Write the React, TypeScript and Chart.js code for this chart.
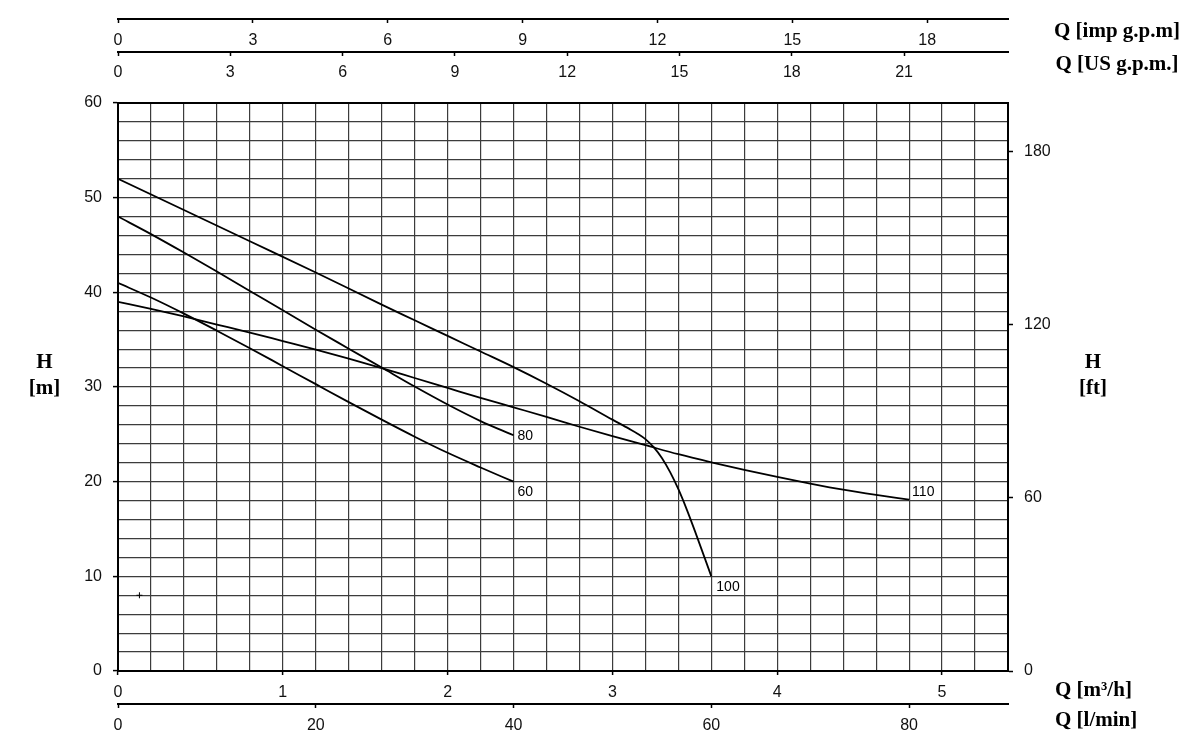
import React, { useEffect, useRef } from 'react';
import { Chart, registerables } from 'chart.js';

Chart.register(...registerables);

// ---- Data (Q in m³/h, H in m) ----
const Q_60 = [0, 0.2, 0.4, 0.6, 0.8, 1.0, 1.2, 1.4, 1.6, 1.8, 2.0, 2.2, 2.4];
const H_60 = [41.0, 39.45, 37.75, 35.95, 34.1, 32.2, 30.3, 28.4, 26.55, 24.75, 23.05, 21.5, 20.0];

const Q_80 = [0, 0.2, 0.4, 0.6, 0.8, 1.0, 1.2, 1.4, 1.6, 1.8, 2.0, 2.2, 2.4];
const H_80 = [48.0, 46.15, 44.2, 42.2, 40.15, 38.1, 36.05, 34.05, 32.05, 30.05, 28.15, 26.4, 24.9];

const Q_100 = [0, 0.4, 0.8, 1.2, 1.6, 1.8, 2.0, 2.2, 2.4, 2.6, 2.8, 3.0, 3.1, 3.15, 3.2, 3.25, 3.3, 3.35, 3.4, 3.45, 3.5, 3.6];
const H_100 = [52.0, 48.7, 45.4, 42.1, 38.7, 37.05, 35.4, 33.75, 32.1, 30.35, 28.5, 26.55, 25.6, 25.1, 24.5, 23.65, 22.5, 21.0, 19.2, 17.1, 14.8, 10.0];

const Q_110 = [0, 0.2, 0.4, 0.6, 0.8, 1.0, 1.2, 1.4, 1.6, 1.8, 2.0, 2.2, 2.4, 2.6, 2.8, 3.0, 3.2, 3.4, 3.6, 3.8, 4.0, 4.2, 4.4, 4.6, 4.8];
const H_110 = [39.0, 38.25, 37.45, 36.6, 35.75, 34.85, 33.95, 33.0, 32.0, 30.95, 29.9, 28.85, 27.85, 26.85, 25.8, 24.8, 23.85, 22.9, 22.05, 21.25, 20.5, 19.8, 19.15, 18.6, 18.1];

const CURVE_NAMES = ['60', '80', '100', '110'];

const MARK_Q = [0.13];
const MARK_H = [8];

// ---- Axis tick labels ----
const M3H_LABELS = [0, 1, 2, 3, 4, 5];
const HM_LABELS = [0, 10, 20, 30, 40, 50, 60];
const FT_TICKS = [0, 60, 120, 180];
const LMIN_TICKS = [0, 20, 40, 60, 80];
const US_TICKS = [0, 3, 6, 9, 12, 15, 18, 21];
const IMP_TICKS = [0, 3, 6, 9, 12, 15, 18];

// ---- Axis ranges / unit conversions ----
const Q_MAX = 5.4; // m³/h
const H_MAX = 60; // m
const M_PER_FT = 0.3048;
const M3H_PER_USGPM = 0.227125;
const M3H_PER_IMPGPM = 0.272765;
const LMIN_PER_M3H = 1000 / 60;

const TICK_FONT = { family: '"Liberation Sans", Arial, sans-serif', size: 16 };
const TICK_COLOR = '#111';
const GRID_COLOR = '#3c3c3c';
const TITLE_FONT = 'bold 21px "Liberation Serif", "Times New Roman", serif';

const has = (list: number[], v: number) => list.some((t) => Math.abs(t - v) < 1e-6);

const pts = (qs: number[], hs: number[]) => qs.map((q, i) => ({ x: q, y: hs[i] }));

// label offsets relative to a curve's end point (style only)
const LABEL_OFFSETS: Record<string, { dx: number; dy: number }> = {
  '60': { dx: 4, dy: 10 },
  '80': { dx: 4, dy: 1 },
  '100': { dx: 5, dy: 11 },
  '110': { dx: 3, dy: -8 },
};

const annotationPlugin = {
  id: 'pumpAnnotations',
  afterDraw(chart: any) {
    const { ctx } = chart;
    ctx.save();
    // curve labels
    ctx.font = '14px "Liberation Sans", Arial, sans-serif';
    ctx.fillStyle = '#000';
    ctx.textAlign = 'left';
    ctx.textBaseline = 'middle';
    CURVE_NAMES.forEach((name, i) => {
      const meta = chart.getDatasetMeta(i);
      const last = meta.data[meta.data.length - 1];
      const off = LABEL_OFFSETS[name];
      ctx.fillText(name, last.x + off.dx, last.y + off.dy);
    });

    // axis unit titles
    ctx.font = TITLE_FONT;
    ctx.fillStyle = '#000';
    ctx.textBaseline = 'middle';
    const yS = chart.scales.y;
    const yR = chart.scales.yFt;
    const mid = (yS.top + yS.bottom) / 2;
    ctx.textAlign = 'center';
    ctx.fillText('H', 44.5, mid - 24);
    ctx.fillText('[m]', 44.5, mid + 2);
    ctx.fillText('H', yR.left + 85, mid - 24);
    ctx.fillText('[ft]', yR.left + 85, mid + 2);

    const imp = chart.scales.xImp;
    const us = chart.scales.xUs;
    ctx.fillText('Q [imp g.p.m]', 1117, imp.bottom + 13);
    ctx.fillText('Q [US g.p.m.]', 1117, us.bottom + 13);

    const xm = chart.scales.x;
    const xl = chart.scales.xL;
    ctx.textAlign = 'left';
    ctx.fillText('Q [m³/h]', 1055, xm.top + 20);
    ctx.fillText('Q [l/min]', 1055, xl.top + 17);
    ctx.restore();
  },
};

export default function App() {
  const canvasRef = useRef<HTMLCanvasElement | null>(null);

  useEffect(() => {
    const canvas = canvasRef.current;
    if (!canvas) return;

    const lineDs = (qs: number[], hs: number[]) => ({
      data: pts(qs, hs),
      borderColor: '#000',
      borderWidth: 1.8,
      pointRadius: 0,
      fill: false,
      cubicInterpolationMode: 'monotone' as const,
      xAxisID: 'x',
      yAxisID: 'y',
    });

    const chart = new Chart(canvas, {
      type: 'line',
      data: {
        datasets: [
          lineDs(Q_60, H_60),
          lineDs(Q_80, H_80),
          lineDs(Q_100, H_100),
          lineDs(Q_110, H_110),
          {
            data: pts(MARK_Q, MARK_H),
            showLine: false,
            pointStyle: 'cross',
            pointRadius: 3,
            borderColor: '#000',
            borderWidth: 1,
            xAxisID: 'x',
            yAxisID: 'y',
          } as any,
        ],
      },
      options: {
        animation: false,
        responsive: false,
        devicePixelRatio: 1,
        layout: { padding: 0 },
        plugins: {
          legend: { display: false },
          tooltip: { enabled: false },
          title: { display: false },
        },
        scales: {
          x: {
            type: 'linear',
            display: true,
            position: 'bottom',
            weight: 1,
            min: 0,
            max: Q_MAX,
            ticks: {
              stepSize: 0.2,
              autoSkip: false,
              maxRotation: 0,
              padding: 8,
              font: TICK_FONT,
              color: TICK_COLOR,
              callback: (v: any) => (has(M3H_LABELS, Number(v)) ? String(Math.round(Number(v))) : ''),
            },
            grid: {
              color: GRID_COLOR,
              lineWidth: 1.2,
              tickLength: 4,
              tickWidth: 1.5,
              tickColor: (c: any) => (c.tick && has(M3H_LABELS, c.tick.value) ? '#000' : 'rgba(0,0,0,0)'),
            },
            border: { display: true, color: '#000', width: 2 },
            afterFit: (s: any) => {
              s.height = 33;
            },
          },
          xL: {
            type: 'linear',
            display: true,
            position: 'bottom',
            weight: 2,
            min: 0,
            max: Q_MAX * LMIN_PER_M3H,
            afterBuildTicks: (s: any) => {
              s.ticks = LMIN_TICKS.map((v) => ({ value: v }));
            },
            ticks: {
              autoSkip: false,
              maxRotation: 0,
              padding: 8,
              font: TICK_FONT,
              color: TICK_COLOR,
              callback: (v: any) => String(v),
            },
            grid: { drawOnChartArea: false, tickLength: 4, tickWidth: 1.5, tickColor: '#000', color: '#000' },
            border: { display: true, color: '#000', width: 2 },
            afterFit: (s: any) => {
              s.height = 47;
            },
          },
          xImp: {
            type: 'linear',
            display: true,
            position: 'top',
            weight: 3,
            min: 0,
            max: Q_MAX / M3H_PER_IMPGPM,
            afterBuildTicks: (s: any) => {
              s.ticks = IMP_TICKS.map((v) => ({ value: v }));
            },
            ticks: {
              mirror: true,
              autoSkip: false,
              maxRotation: 0,
              padding: 12,
              font: TICK_FONT,
              color: TICK_COLOR,
              callback: (v: any) => String(v),
            },
            grid: { drawOnChartArea: false, tickLength: -4, tickWidth: 1.5, tickColor: '#000', color: '#000' },
            border: { display: true, color: '#000', width: 2 },
            afterFit: (s: any) => {
              s.height = 19;
            },
          },
          xUs: {
            type: 'linear',
            display: true,
            position: 'top',
            weight: 2,
            min: 0,
            max: Q_MAX / M3H_PER_USGPM,
            afterBuildTicks: (s: any) => {
              s.ticks = US_TICKS.map((v) => ({ value: v }));
            },
            ticks: {
              mirror: true,
              autoSkip: false,
              maxRotation: 0,
              padding: 11,
              font: TICK_FONT,
              color: TICK_COLOR,
              callback: (v: any) => String(v),
            },
            grid: { drawOnChartArea: false, tickLength: -4, tickWidth: 1.5, tickColor: '#000', color: '#000' },
            border: { display: true, color: '#000', width: 2 },
            afterFit: (s: any) => {
              s.height = 33;
            },
          },
          xTopFrame: {
            type: 'linear',
            display: true,
            position: 'top',
            weight: 1,
            min: 0,
            max: 1,
            ticks: { display: false },
            grid: { display: false, drawTicks: false, drawOnChartArea: false },
            border: { display: true, color: '#000', width: 2 },
            afterFit: (s: any) => {
              s.height = 51;
            },
          },
          y: {
            type: 'linear',
            display: true,
            position: 'left',
            weight: 1,
            min: 0,
            max: H_MAX,
            ticks: {
              stepSize: 2,
              autoSkip: false,
              padding: 11,
              font: TICK_FONT,
              color: TICK_COLOR,
              callback: (v: any) => (has(HM_LABELS, Number(v)) ? String(v) : ''),
            },
            grid: {
              color: GRID_COLOR,
              lineWidth: 1.2,
              tickLength: 5,
              tickWidth: 1.5,
              tickColor: (c: any) => (c.tick && has(HM_LABELS, c.tick.value) ? '#000' : 'rgba(0,0,0,0)'),
            },
            border: { display: true, color: '#000', width: 2 },
            afterFit: (s: any) => {
              s.width = 118;
            },
          },
          yFt: {
            type: 'linear',
            display: true,
            position: 'right',
            weight: 1,
            min: 0,
            max: H_MAX / M_PER_FT,
            afterBuildTicks: (s: any) => {
              s.ticks = FT_TICKS.map((v) => ({ value: v }));
            },
            ticks: {
              autoSkip: false,
              padding: 11,
              font: TICK_FONT,
              color: TICK_COLOR,
              callback: (v: any) => String(v),
            },
            grid: { drawOnChartArea: false, tickLength: 5, tickWidth: 1.5, tickColor: '#000', color: '#000' },
            border: { display: true, color: '#000', width: 2 },
            afterFit: (s: any) => {
              s.width = 192;
            },
          },
        } as any,
      },
      plugins: [annotationPlugin],
    });

    return () => {
      chart.destroy();
    };
  }, []);

  return (
    <div style={{ position: 'fixed', left: 0, top: 0, width: 1200, height: 751, background: '#fff' }}>
      <canvas ref={canvasRef} width={1200} height={751} style={{ display: 'block', width: 1200, height: 751 }} />
    </div>
  );
}
